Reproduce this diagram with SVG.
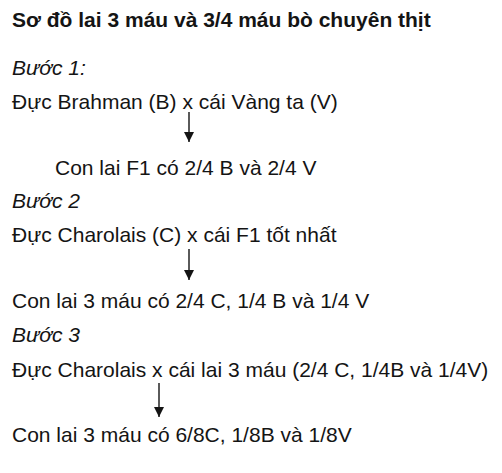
<svg xmlns="http://www.w3.org/2000/svg" width="502" height="473" viewBox="0 0 502 473">
<defs>
<style>
text{font-family:"Liberation Sans",Arial,sans-serif;font-size:21px;fill:#141414}
.title{font-weight:bold;font-size:21px}
.step{font-style:italic}
.arrow{stroke:#141414;stroke-width:1.4;fill:none}
</style>
<marker id="ah" viewBox="0 0 10 10" refX="10" refY="5" markerWidth="10" markerHeight="10" markerUnits="userSpaceOnUse" orient="auto">
<path d="M0,0 L10,5 L0,10 Z" fill="#141414"/>
</marker>
</defs>
<rect width="502" height="473" fill="#ffffff"/>
<g id="title"><text class="title" x="12" y="27">Sơ đồ lai 3 máu và 3/4 máu bò chuyên thịt</text></g>
<g id="step1"><text class="step" x="12" y="75">Bước 1:</text></g>
<g id="cross1"><text x="12" y="109">Đực Brahman (B) x cái Vàng ta (V)</text></g>
<g id="f1"><text x="55" y="175">Con lai F1 có 2/4 B và 2/4 V</text></g>
<g id="step2"><text class="step" x="12" y="208">Bước 2</text></g>
<g id="cross2"><text x="12" y="242">Đực Charolais (C) x cái F1 tốt nhất</text></g>
<g id="three1"><text x="12" y="308">Con lai 3 máu có 2/4 C, 1/4 B và 1/4 V</text></g>
<g id="step3"><text class="step" x="12" y="342">Bước 3</text></g>
<g id="cross3"><text x="12" y="377">Đực Charolais x cái lai 3 máu (2/4 C, 1/4B và 1/4V)</text></g>
<g id="three2"><text x="12" y="442">Con lai 3 máu có 6/8C, 1/8B và 1/8V</text></g>
<g id="connectors">
<line class="arrow" x1="189" y1="112" x2="189" y2="142" marker-end="url(#ah)"/>
<line class="arrow" x1="189" y1="249" x2="189" y2="280" marker-end="url(#ah)"/>
<line class="arrow" x1="159" y1="383" x2="159" y2="417" marker-end="url(#ah)"/>
</g>
</svg>
